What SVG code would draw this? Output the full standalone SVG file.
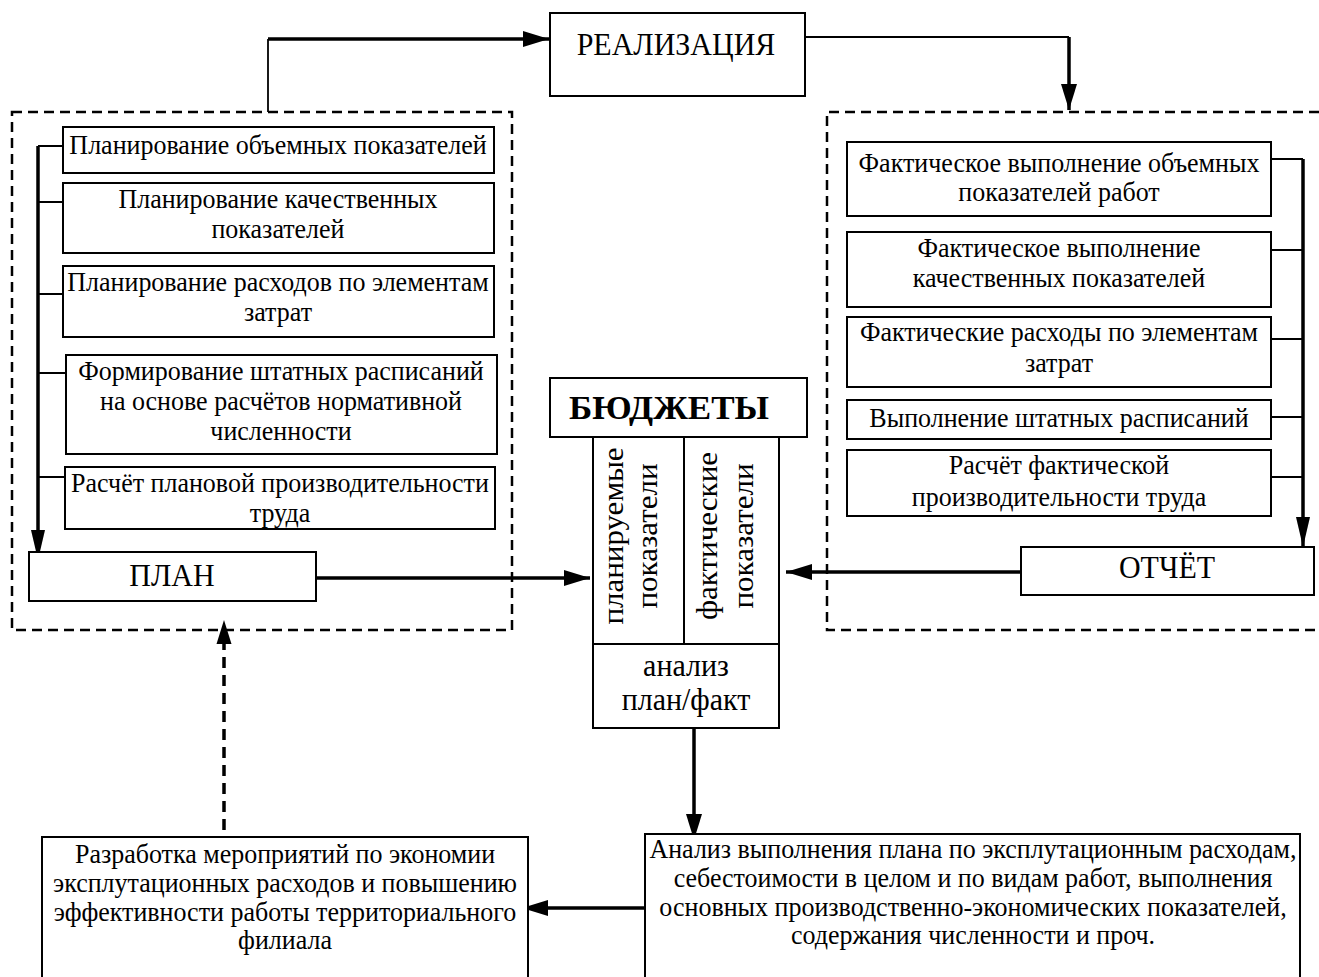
<svg xmlns="http://www.w3.org/2000/svg" width="1319" height="977" viewBox="0 0 1319 977">
<defs>
<marker id="ah" viewBox="0 0 26 16" refX="26" refY="8" markerWidth="26" markerHeight="16" markerUnits="userSpaceOnUse" orient="auto">
<path d="M0,0 L26,8 L0,16 Z" fill="#000"/>
</marker>
<marker id="ahl" viewBox="0 0 30 14" refX="30" refY="7" markerWidth="30" markerHeight="14" markerUnits="userSpaceOnUse" orient="auto">
<path d="M0,0 L30,7 L0,14 Z" fill="#000"/>
</marker>
</defs>
<style>
text{font-family:"Liberation Serif","Times New Roman",serif;fill:#000;text-anchor:middle}
.s{transform-box:fill-box;transform-origin:center;transform:scaleY(1.07)}
.t{font-size:26px}
.big{font-size:30px}
.v{font-size:29px}
.b{font-size:31px;font-weight:bold}
.box{fill:#fff;stroke:#000;stroke-width:2}
.dash{fill:none;stroke:#000;stroke-width:2.5;stroke-dasharray:10 6}
.thick{fill:none;stroke:#000;stroke-width:3.5}
.thin{fill:none;stroke:#000;stroke-width:1.8}
</style>
<rect width="1319" height="977" fill="#fff"/>

<g id="plan-group">
<rect class="dash" x="12" y="112" width="500" height="518"/>
</g>
<g id="fact-group">
<path class="dash" d="M1319,112 H827 V630 H1319"/>
</g>

<g id="connectors">
<path class="thin" d="M268,112 V39"/>
<path class="thick" d="M268,39 H549" marker-end="url(#ah)"/>
<path class="thin" d="M804,37 H1069"/>
<path class="thick" d="M1069,37 V110" marker-end="url(#ah)"/>
<path class="thick" d="M38,146 V560" marker-end="url(#ahl)"/>
<path class="thin" d="M38,146 H63 M38,202 H63 M38,294 H63 M38,373 H66 M38,477 H65"/>
<path class="thick" d="M1303,159 V547" marker-end="url(#ahl)"/>
<path class="thin" d="M1271,159 H1303 M1271,250 H1303 M1271,339 H1303 M1271,417 H1303 M1271,477 H1303"/>
<path class="thick" d="M316,578 H590" marker-end="url(#ah)"/>
<path class="thick" d="M1028,572 H786" marker-end="url(#ah)"/>
<path class="thick" d="M694,728 V840" marker-end="url(#ah)"/>
<path class="thick" d="M646,908 H522" marker-end="url(#ah)"/>
<path fill="none" stroke="#000" stroke-width="3.5" stroke-dasharray="11 7" d="M224,830 V640"/>
<path d="M224,620 L231.5,644 L216.5,644 Z" fill="#000"/>
</g>

<g id="realizaciya">
<rect class="box" x="550" y="13" width="255" height="83"/>
<text class="big s" x="676" y="54">РЕАЛИЗАЦИЯ</text>
</g>

<g id="p1"><rect class="box" x="63" y="127" width="431" height="46"/>
<text class="t s" x="278" y="153">Планирование объемных показателей</text></g>
<g id="p2"><rect class="box" x="63" y="183" width="431" height="70"/>
<text class="t s" x="278" y="208">Планирование качественных<tspan x="278" dy="28">показателей</tspan></text></g>
<g id="p3"><rect class="box" x="63" y="266" width="431" height="71"/>
<text class="t s" x="278" y="291">Планирование расходов по элементам<tspan x="278" dy="28">затрат</tspan></text></g>
<g id="p4"><rect class="box" x="66" y="355" width="431" height="99"/>
<text class="t s" x="281" y="381">Формирование штатных расписаний<tspan x="281" dy="28">на основе расчётов нормативной</tspan><tspan x="281" dy="28">численности</tspan></text></g>
<g id="p5"><rect class="box" x="65" y="467" width="430" height="62"/>
<text class="t s" x="280" y="492">Расчёт плановой производительности<tspan x="280" dy="28">труда</tspan></text></g>
<g id="plan"><rect class="box" x="29" y="552" width="287" height="49"/>
<text class="big s" x="172" y="585">ПЛАН</text></g>

<g id="f1"><rect class="box" x="847" y="142" width="424" height="74"/>
<text class="t s" x="1059" y="172">Фактическое выполнение объемных<tspan x="1059" dy="27">показателей работ</tspan></text></g>
<g id="f2"><rect class="box" x="847" y="232" width="424" height="75"/>
<text class="t s" x="1059" y="257">Фактическое выполнение<tspan x="1059" dy="28">качественных показателей</tspan></text></g>
<g id="f3"><rect class="box" x="847" y="317" width="424" height="70"/>
<text class="t s" x="1059" y="341">Фактические расходы по элементам<tspan x="1059" dy="29">затрат</tspan></text></g>
<g id="f4"><rect class="box" x="847" y="400" width="424" height="39"/>
<text class="t s" x="1059" y="426">Выполнение штатных расписаний</text></g>
<g id="f5"><rect class="box" x="847" y="450" width="424" height="66"/>
<text class="t s" x="1059" y="474">Расчёт фактической<tspan x="1059" dy="30">производительности труда</tspan></text></g>
<g id="otchet"><rect class="box" x="1021" y="547" width="293" height="48"/>
<text class="big s" x="1167" y="577">ОТЧЁТ</text></g>

<g id="budget">
<rect class="box" x="550" y="378" width="257" height="59"/>
<text class="b s" x="669" y="418" textLength="200" lengthAdjust="spacingAndGlyphs">БЮДЖЕТЫ</text>
<rect class="box" x="593" y="437" width="186" height="207"/>
<line x1="684" y1="437" x2="684" y2="644" stroke="#000" stroke-width="2"/>
<text class="v" transform="translate(623,536) rotate(-90) scale(1.07,1)">планируемые<tspan x="0" dy="34">показатели</tspan></text>
<text class="v" transform="translate(717,536) rotate(-90) scale(1.07,1)">фактические<tspan x="0" dy="36">показатели</tspan></text>
</g>
<g id="analysis"><rect class="box" x="593" y="644" width="186" height="84"/>
<text class="big s" x="686" y="676">анализ<tspan x="686" dy="32">план/факт</tspan></text></g>

<g id="measures"><rect class="box" x="42" y="837" width="486" height="150"/>
<text class="t s" x="285" y="865.5">Разработка мероприятий по экономии<tspan x="285" dy="27">эксплутационных расходов и повышению</tspan><tspan x="285" dy="26.5">эффективности работы территориального</tspan><tspan x="285" dy="26.5">филиала</tspan></text></g>
<g id="analysis-detail"><rect class="box" x="645" y="834" width="655" height="150"/>
<text class="t s" x="973" y="860.5">Анализ выполнения плана по эксплутационным расходам,<tspan x="973" dy="26.5">себестоимости в целом и по видам работ, выполнения</tspan><tspan x="973" dy="27">основных производственно-экономических показателей,</tspan><tspan x="973" dy="27">содержания численности и проч.</tspan></text></g>
</svg>
